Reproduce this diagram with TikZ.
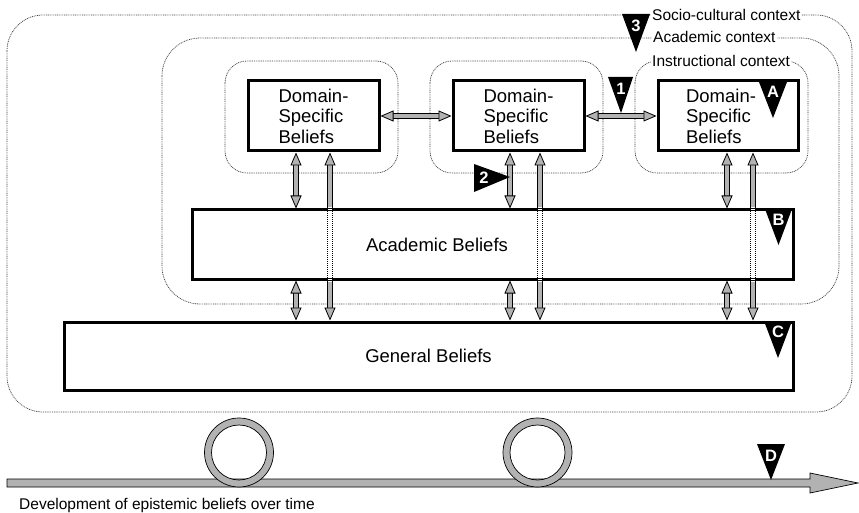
\documentclass[tikz,border=0pt]{standalone}
\usepackage{fontspec}
\setmainfont{Liberation Sans}
\usetikzlibrary{arrows.meta}
\definecolor{arrowgray}{gray}{0.7}
\definecolor{ctxline}{gray}{0.25}

\begin{document}
\begin{tikzpicture}[x=1pt,y=-1pt,
  ctx/.style={draw=ctxline, line width=0.75pt, dash pattern=on 0.9pt off 0.9pt},
  belief/.style={draw=black, line width=3pt, fill=white, inner sep=0pt},
  boxtext/.style={font=\fontsize{18.5}{20.5}\selectfont},
  ctxlabel/.style={fill=white, inner sep=1pt, font=\fontsize{15.5}{17}\selectfont, anchor=west},
  bt/.tip={Triangle[length=13pt,width=11pt,fill=arrowgray]},
  barrow/.style={double=arrowgray, double distance=4.2pt, line width=0.8pt},
  shaftdots/.style={draw=black, line width=0.7pt, dash pattern=on 1pt off 1pt,
                    double=white, double distance=4.2pt},
  mletter/.style={text=white, font=\bfseries\fontsize{16.5}{16.5}\selectfont, inner sep=0pt},
  ribbon/.style={draw=black, line width=0.7pt, fill=arrowgray},
]
\useasboundingbox (0,0) rectangle (859,513);

% nested context frames
\draw[ctx, rounded corners=36pt] (7,15) rectangle (852,412);
\draw[ctx, rounded corners=38pt] (162,38) rectangle (839,304);
\draw[ctx, rounded corners=22pt] (225,61) rectangle (398,173);
\draw[ctx, rounded corners=22pt] (430,61) rectangle (603,173);
\draw[ctx, rounded corners=22pt] (635,61) rectangle (808,173);

\node[ctxlabel] (lsoc)  at (651,15) {Socio-cultural context};
\node[ctxlabel] (lacad) at (652,37) {Academic context};
\node[ctxlabel] (linst) at (651,61) {Instructional context};

% belief boxes
\node[belief, boxtext, align=left, minimum width=131pt, minimum height=70pt] (d1) at (313.5,116) {Domain-\\Specific\\Beliefs};
\node[belief, boxtext, align=left, minimum width=131pt, minimum height=70pt] (d2) at (518.5,116) {Domain-\\Specific\\Beliefs};
\node[belief, minimum width=140pt, minimum height=70pt] (d3) at (728,116) {};
\node[boxtext, align=left] (d3txt) at (721,116) {Domain-\\Specific\\Beliefs};
\node[belief, minimum width=601pt, minimum height=69pt] (acad) at (492.5,244.5) {};
\node[boxtext] (acadtxt) at (437,245) {Academic Beliefs};
\node[belief, boxtext, minimum width=729pt, minimum height=68pt] (gen) at (428.5,356) {General Beliefs};

% arrow columns
\coordinate (s1) at (296,0);
\coordinate (s2) at (510,0);
\coordinate (s3) at (727,0);
\coordinate (k1) at (330,0);
\coordinate (k2) at (540,0);
\coordinate (k3) at (753,0);

% horizontal links between domain-specific beliefs
\draw[barrow, bt-bt] (d1.east) -- (d2.west);
\draw[barrow, bt-bt] (d2.east) -- (d3.west);

% domain-specific <-> academic, academic <-> general
\foreach \s/\d in {s1/d1, s2/d2, s3/d3}{
  \draw[barrow, bt-bt] (\d.south -| \s) -- (acad.north -| \s);
  \draw[barrow, bt-bt] (acad.south -| \s) -- (gen.north -| \s);
}
% domain-specific <-> general, passing behind academic beliefs
\foreach \k/\d in {k1/d1, k2/d2, k3/d3}{
  \draw[barrow, bt-] (\d.south -| \k) -- (acad.north -| \k);
  \draw[barrow, -bt] (acad.south -| \k) -- (gen.north -| \k);
  \draw[shaftdots] ([yshift=1.6pt]acad.north -| \k) -- ([yshift=-1.6pt]acad.south -| \k);
}

% markers
\fill (622,14) -- (650,14) -- (636,52) -- cycle;
\node[mletter] (m3) at (636,26) {3};
\fill (608,77) -- (633,77) -- (621,113) -- cycle;
\node[mletter] (m1) at (621,89) {1};
\fill (759,82) -- (787,82) -- (773,118) -- cycle;
\node[mletter] (mA) at (773,92) {A};
\fill (474,164) -- (474,192) -- (510,177) -- cycle;
\node[mletter] (m2) at (484,178) {2};
\fill (765,209) -- (792,209) -- (778.5,245) -- cycle;
\node[mletter] (mB) at (778.5,220) {B};
\fill (764,321) -- (792,321) -- (778,358) -- cycle;
\node[mletter] (mC) at (778,332) {C};

% time line with two loops
\draw[ribbon] (7,479) -- (810,479) -- (810,473) -- (858,483) -- (810,493) -- (810,487) -- (7,487) -- cycle;
\draw[ribbon, even odd rule] (239,452.5) circle[radius=34.5pt] (239,452.5) circle[radius=27.5pt];
\draw[ribbon, even odd rule] (537.5,452.5) circle[radius=34.5pt] (537.5,452.5) circle[radius=27.5pt];
\fill (757,444) -- (785,444) -- (771,480) -- cycle;
\node[mletter] (mD) at (771,456) {D};
\node[anchor=base west, inner sep=0pt, font=\fontsize{15.5}{17}\selectfont] (tl) at (19,509) {Development of epistemic beliefs over time};
\end{tikzpicture}
\end{document}
